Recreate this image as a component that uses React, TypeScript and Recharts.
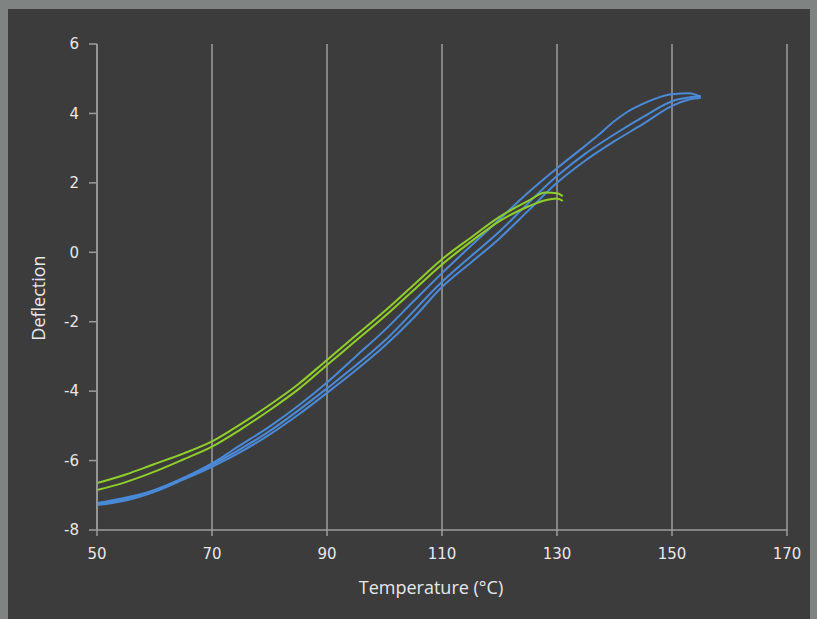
import { LineChart, Line, XAxis, YAxis, CartesianGrid } from "recharts";

// temperature (°C) vs deflection, two specimens cycled heat/cool
const xTicks = [50, 70, 90, 110, 130, 150, 170];
const yTicks = [-8, -6, -4, -2, 0, 2, 4, 6];

const blueHeatT = [50, 55, 60, 65, 70, 75, 80, 85, 90, 95, 100, 105, 110, 115, 120, 125, 130, 135, 140, 145, 150, 153, 155];
const blueHeatD = [-7.28, -7.15, -6.9, -6.55, -6.18, -5.75, -5.25, -4.68, -4.05, -3.4, -2.7, -1.9, -1.0, -0.3, 0.4, 1.2, 2.0, 2.65, 3.2, 3.7, 4.22, 4.4, 4.45];

const blueHeat2T = [50, 60, 70, 80, 90, 100, 110, 120, 130, 135, 140, 145, 150, 155];
const blueHeat2D = [-7.22, -6.85, -6.12, -5.15, -3.92, -2.55, -0.85, 0.6, 2.2, 2.85, 3.4, 3.9, 4.35, 4.5];

const blueCoolT = [155, 153, 150, 147, 145, 142, 140, 137, 135, 130, 125, 120, 115, 110, 105, 100, 95, 90, 85, 80, 75, 70, 65, 60, 55, 50];
const blueCoolD = [4.48, 4.58, 4.55, 4.42, 4.28, 4.02, 3.78, 3.35, 3.08, 2.42, 1.72, 0.95, 0.18, -0.6, -1.42, -2.25, -3.0, -3.75, -4.42, -5.02, -5.55, -6.08, -6.5, -6.85, -7.1, -7.25];

const greenHeatT = [50, 55, 60, 65, 70, 75, 80, 85, 90, 95, 100, 105, 110, 115, 120, 125, 128, 130, 131];
const greenHeatD = [-6.85, -6.62, -6.32, -5.97, -5.6, -5.1, -4.55, -3.95, -3.25, -2.55, -1.85, -1.1, -0.35, 0.3, 0.9, 1.32, 1.5, 1.55, 1.48];

const greenCoolT = [131, 130, 128, 125, 120, 115, 110, 105, 100, 95, 90, 85, 80, 75, 70, 65, 60, 55, 50];
const greenCoolD = [1.62, 1.7, 1.72, 1.48, 1.02, 0.42, -0.2, -0.95, -1.7, -2.4, -3.1, -3.8, -4.4, -4.95, -5.45, -5.8, -6.1, -6.4, -6.65];

const toPoints = (t: number[], d: number[]) => t.map((temp, i) => ({ temp, defl: d[i] }));

const series = [
  { key: "blueHeat", data: toPoints(blueHeatT, blueHeatD), color: "#4a8ad8" },
  { key: "blueHeat2", data: toPoints(blueHeat2T, blueHeat2D), color: "#4a8ad8" },
  { key: "blueCool", data: toPoints(blueCoolT, blueCoolD), color: "#4a8ad8" },
  { key: "greenHeat", data: toPoints(greenHeatT, greenHeatD), color: "#90cf2a" },
  { key: "greenCool", data: toPoints(greenCoolT, greenCoolD), color: "#90cf2a" },
];

const grid = "#9c9c9c";
const ink = "#e8e8e8";

export default function App() {
  return (
    <div style={{ position: "absolute", left: 0, top: 0, width: 817, height: 619, background: "#7f8381", overflow: "hidden" }}>
      <div style={{ position: "absolute", left: 8, top: 9, width: 802, height: 610, background: "#3c3c3c" }} />
      <div style={{ position: "absolute", left: 0, top: 0 }}>
        <LineChart width={817} height={619} margin={{ top: 44, right: 30, bottom: 29, left: 0 }}>
          <CartesianGrid horizontal={false} stroke={grid} strokeWidth={1.5} />
          <XAxis
            type="number"
            dataKey="temp"
            domain={[50, 170]}
            ticks={xTicks}
            allowDataOverflow
            height={60}
            stroke={grid}
            strokeWidth={1.5}
            tickSize={6}
            tickMargin={12}
            tick={{ fill: ink, fontSize: 15, fontFamily: "DejaVu Sans" }}
          />
          <YAxis
            type="number"
            dataKey="defl"
            domain={[-8, 6]}
            ticks={yTicks}
            allowDataOverflow
            width={97}
            stroke={grid}
            strokeWidth={1.5}
            tickSize={8}
            tickMargin={10}
            tick={{ fill: ink, fontSize: 15, fontFamily: "DejaVu Sans" }}
          />
          {series.map((s) => (
            <Line
              key={s.key}
              data={s.data}
              dataKey="defl"
              type="monotone"
              stroke={s.color}
              strokeWidth={2}
              dot={false}
              isAnimationActive={false}
            />
          ))}
        </LineChart>
      </div>
      <div style={{ position: "absolute", left: 231, width: 400, top: 575, textAlign: "center", color: ink, fontFamily: "Open Sans", fontSize: 18 }}>
        Temperature (°C)
      </div>
      <div
        style={{
          position: "absolute",
          left: 38 - 60,
          top: 298 - 13,
          width: 120,
          textAlign: "center",
          color: ink,
          fontFamily: "Open Sans",
          fontSize: 18,
          lineHeight: "26px",
          transform: "rotate(-90deg)",
        }}
      >
        Deflection
      </div>
    </div>
  );
}
